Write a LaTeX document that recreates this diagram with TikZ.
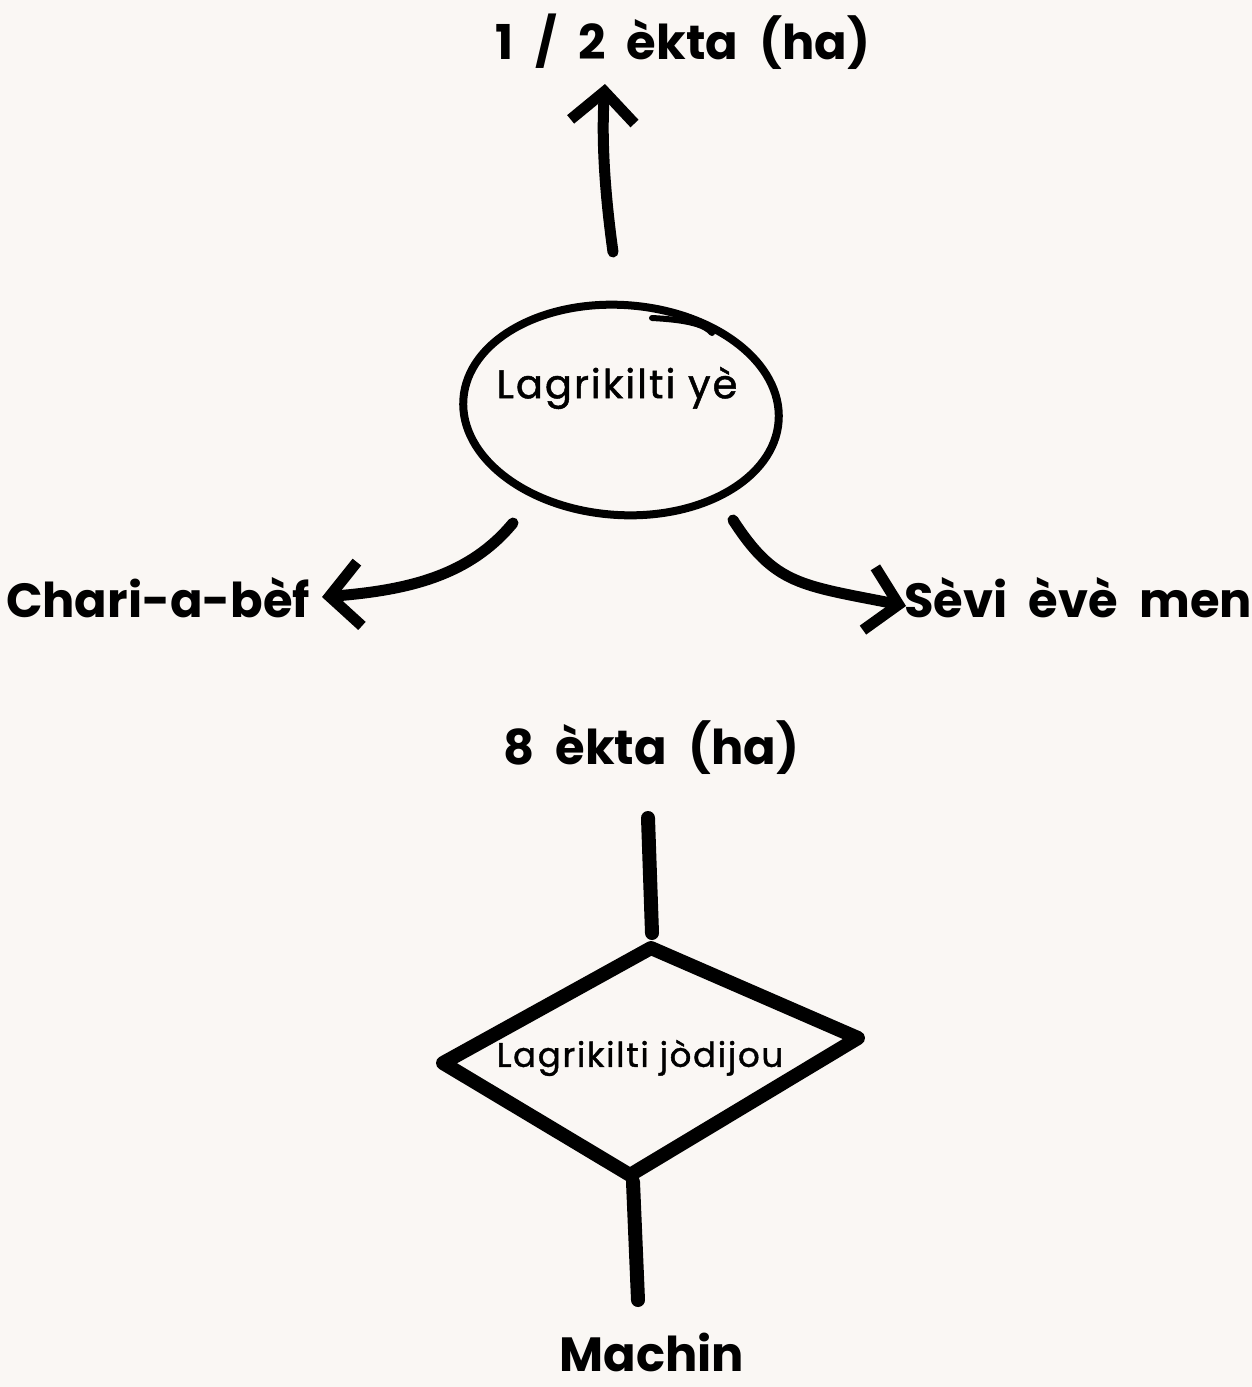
\documentclass[tikz,border=0pt]{standalone}
\usepackage{fontspec}
\setmainfont{Poppins}
\newfontfamily\lblfont{Poppins}[WordSpace=2.1]
\newfontfamily\innerfont{Poppins}[LetterSpace=5,FakeBold=1.2]
\usetikzlibrary{arrows.meta,shapes.geometric}
\definecolor{bg}{HTML}{FAF7F4}
\begin{document}
\begin{tikzpicture}[x=0.5pt,y=-0.5pt,
  lbl/.style={font=\lblfont\fontsize{24pt}{28pt}\selectfont\bfseries, inner sep=0pt},
  innertxt/.style={font=\innerfont\fontsize{20pt}{24pt}\selectfont, inner sep=0pt},
  diatext/.style={font=\innerfont\fontsize{17pt}{20pt}\selectfont, inner sep=0pt},
  conn/.style={line width=5.5pt, line cap=round, line join=round},
  barb/.style={-{Straight Barb[length=15pt,width=32pt,line width=5.5pt]}},
  thick line/.style={line width=7pt, line cap=round, line join=round}]
\fill[bg] (0,0) rectangle (1252,1387);
\useasboundingbox (0,0) rectangle (1252,1387);
% labels
\node[lbl] (t1) at (683,42) {1 / 2 èkta (ha)};
\node[lbl] (left) at (158,598) {Chari-a-bèf};
\node[lbl] (right) at (1078,598) {Sèvi èvè men};
\node[lbl] (t8) at (651,748) {8 èkta (ha)};
\node[lbl] (mach) at (652,1352) {Machin};
% ellipse
\node[ellipse, draw, line width=4pt, minimum width=158pt, minimum height=105pt, rotate=-4] (ell) at (621,410) {};
\node[innertxt] (elltxt) at (617,388) {Lagrikilti yè};
\draw[line width=3pt, line cap=round] (652,318) .. controls (690,320) and (705,325) .. (712,333);
% arrows
\coordinate (a1s) at (613,252);
\coordinate (a1e) at (605,84);
\draw[conn,barb] (a1s) .. controls (603,180) and (602,130) .. (a1e);
\coordinate (a2s) at (513,523);
\coordinate (a2e) at (322,597);
\draw[conn,barb] (a2s) .. controls (470,575) and (410,590) .. (a2e);
\coordinate (a3s) at (733,520);
\coordinate (a3e) at (906,606);
\draw[conn,barb] (a3s) .. controls (775,585) and (800,585) .. (a3e);
% diamond
\coordinate (dT) at (651,948);
\coordinate (dR) at (858,1038);
\coordinate (dB) at (630,1175);
\coordinate (dL) at (443,1063);
\draw[thick line] (dT) -- (dR) -- (dB) -- (dL) -- cycle;
\node[diatext] (diatxt) at (640,1058) {Lagrikilti jòdijou};
% vertical lines
\coordinate (v1s) at (648,818);
\coordinate (v1e) at (652,933);
\draw[thick line] (v1s) -- (v1e);
\coordinate (v2s) at (633,1182);
\coordinate (v2e) at (638,1300);
\draw[thick line] (v2s) -- (v2e);
\end{tikzpicture}
\end{document}
